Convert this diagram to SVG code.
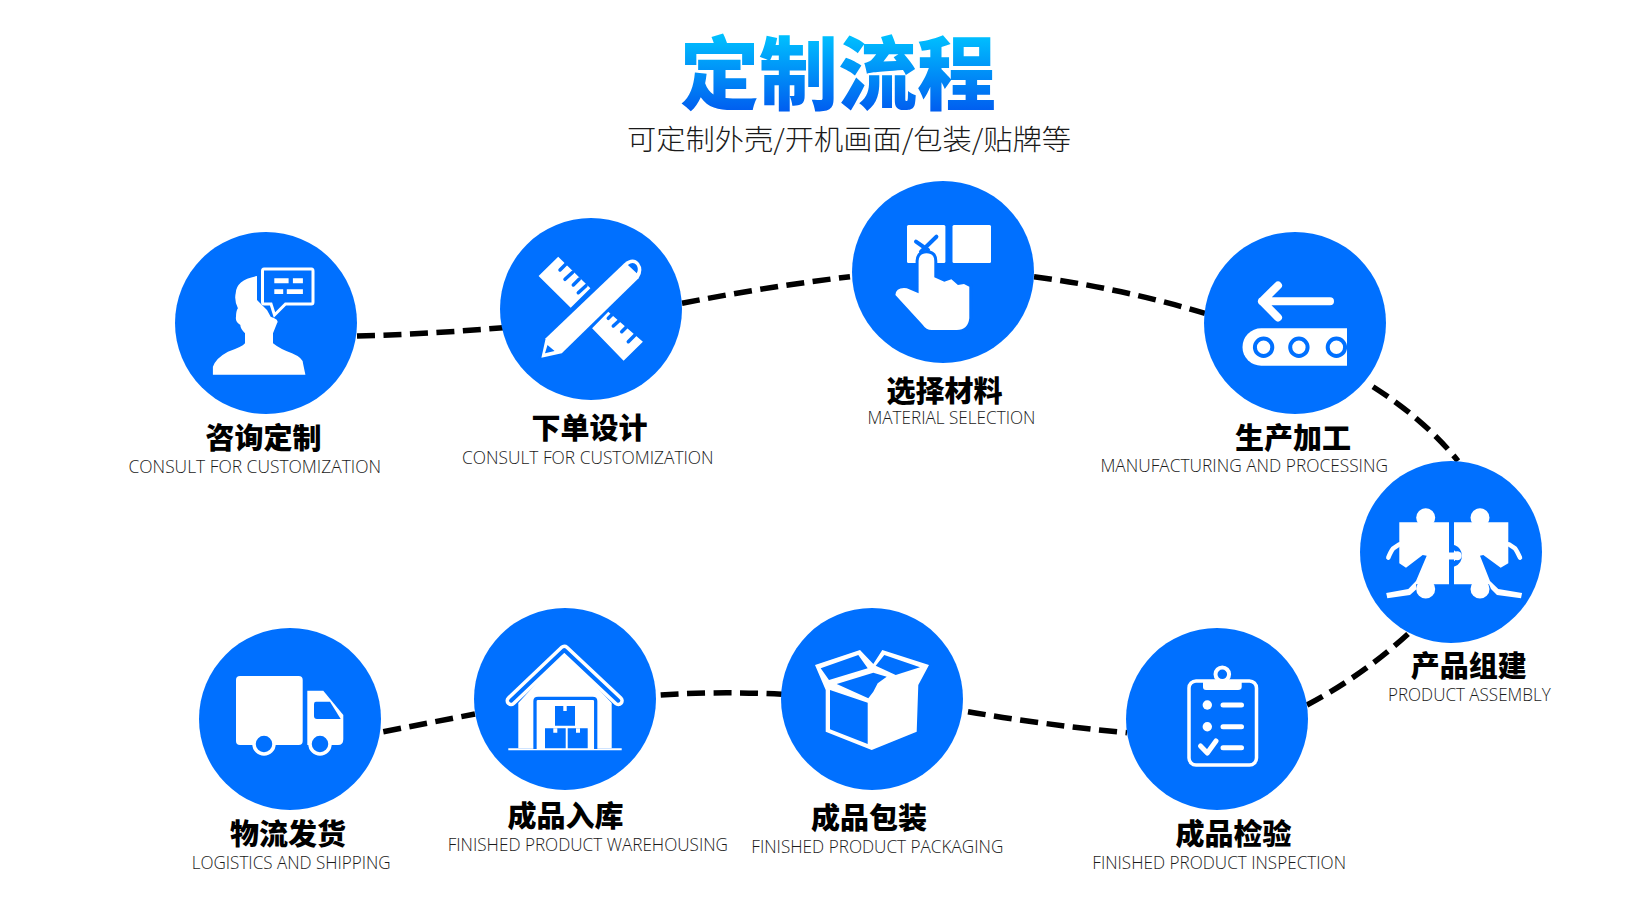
<svg xmlns="http://www.w3.org/2000/svg" width="1650" height="900" viewBox="0 0 1650 900">
<style>
.c{fill:#0070ff}
.w{fill:#fff}
.b{fill:#0070ff}
.ws{fill:none;stroke:#fff;stroke-linecap:round;stroke-linejoin:round}
.bs{fill:none;stroke:#0070ff;stroke-linecap:round;stroke-linejoin:round}
.cn{fill:none;stroke:#000;stroke-width:5.5;stroke-dasharray:18 8.5}
.zh{font-family:"Noto Sans CJK SC","Noto Sans",sans-serif;font-weight:900;font-size:29px;fill:#000;text-anchor:middle}
.en{font-family:"Open Sans","Noto Sans",sans-serif;font-weight:300;font-size:18.5px;fill:#1a1a1a}
</style>
<defs>
<linearGradient id="tg" gradientUnits="userSpaceOnUse" x1="0" y1="33" x2="0" y2="110">
<stop offset="0" stop-color="#00c3ff"/><stop offset="1" stop-color="#005ff0"/>
</linearGradient>
</defs>
<rect width="1650" height="900" fill="#fff"/>
<g id="header">
<text x="838" y="103" text-anchor="middle" textLength="316" lengthAdjust="spacingAndGlyphs" style="font-family:'Noto Sans CJK SC',sans-serif;font-weight:900;font-size:80px" fill="url(#tg)">定制流程</text>
<text x="627" y="150" textLength="444" lengthAdjust="spacingAndGlyphs" style="font-family:'Noto Sans CJK SC',sans-serif;font-weight:300;font-size:28px" fill="#1a1a1a">可定制外壳/开机画面/包装/贴牌等</text>
</g>
<g id="connectors">
<path class="cn" d="M357 336Q430 334 503 327.7"/>
<path class="cn" d="M682 303.3Q765 287 850 276.7"/>
<path class="cn" d="M1034 276.7Q1120 288 1205 313.3"/>
<path class="cn" d="M1373 386.7Q1425 420 1458 461"/>
<path class="cn" d="M1408 634Q1362 676 1307 705"/>
<path class="cn" d="M968 711.7Q1045 725 1127 732.7"/>
<path class="cn" d="M660.7 695Q720 691 782 694.3"/>
<path class="cn" d="M383.3 731.7L475 714"/>
</g>
<g id="node-consult">
<circle class="c" cx="266" cy="323" r="91"/>
<path class="w" d="M212.9 374.7V366.7Q216 358 227.9 351.7Q242 347 245 343.3V333.3Q240 328 240.4 325Q235 322 236 316.7Q236 311 237.9 308.3Q234 300 235.7 293.3Q236 280 257 276V300L267 310L270.7 316.7L274.3 318.3Q279 320 277 323.3L273 333.3V343.3Q280 349 292 353.3Q303 358 303 363.3L305.4 374.7Z"/>
<path d="M264 269H311.5Q313 269 313 271V302Q313 304 311.5 304H285.5L274.5 315L271 304H264Q262.5 304 262.5 302V271Q262.5 269 264 269Z" fill="#0070ff" stroke="#fff" stroke-width="3"/>
<path class="w" d="M274.3 278.3H288.6V283.3H274.3ZM292.9 278.3H302.9V283.3H292.9ZM274.3 289.3H283.2V294H274.3ZM286.8 289.3H302.9V294H286.8Z"/>
<text class="zh" x="263.4" y="448.5">咨询定制</text>
<text class="en" x="128.5" y="473.3" textLength="252.5" lengthAdjust="spacingAndGlyphs">CONSULT FOR CUSTOMIZATION</text>
</g>
<g id="node-design">
<circle class="c" cx="591" cy="309" r="91"/>
<path class="w" d="M558.2 256.7L538.6 276L570.7 307.7L590.4 288.3ZM608.2 311.7L592.1 328.3L623.6 360.7L642.9 341.7Z"/>
<path class="bs" stroke-width="3.5" stroke-linecap="butt" d="M566 264L560 270M572.7 272.3L565 279.3M579.3 279L573.3 285M586 285.7L578.3 292.700M614.3 312.3L608.3 318.3M621 319L613.3 326M627.7 325.7L621.7 331.7M636 334L628.3 341.7"/>
<path d="M541.4 357.7L545.7 338.3L624.3 263.3Q633 256 639 263Q644 270 638.6 278.3L561.8 353.3Z" fill="#fff" stroke="#0070ff" stroke-width="5" paint-order="stroke"/>
<path class="b" d="M547.5 345L545 353.3L554.6 351ZM627.9 265Q633 261 636.5 265Q639 269 636.8 273.3Z"/>
<text class="zh" x="589.5" y="439">下单设计</text>
<text class="en" x="462" y="463.6" textLength="251.6" lengthAdjust="spacingAndGlyphs">CONSULT FOR CUSTOMIZATION</text>
</g>
<g id="node-material">
<circle class="c" cx="943" cy="272" r="91"/>
<rect class="w" x="907" y="225" width="38.4" height="38" rx="1.5"/>
<rect class="w" x="952.5" y="225" width="38.5" height="38" rx="1.5"/>
<path class="bs" stroke-width="4" stroke-linecap="butt" d="M916 241.7L928 250M936.4 236.7L921 251.7"/>
<path d="M918.6 261Q919 253.3 926.5 253.3Q934.3 253.3 934.3 261V277.3L944.3 281.7L951.4 279.3L957.9 285L964 284L969.3 286.7V318.3Q968 330 956.8 330H931.8Q926 330 922.9 325L895.4 295Q896 287 906.8 288.3L918.6 293.3Z" fill="#fff" stroke="#0070ff" stroke-width="6" paint-order="stroke"/>
<text class="zh" x="944.5" y="402.3">选择材料</text>
<text class="en" x="867.5" y="424.4" textLength="167.9" lengthAdjust="spacingAndGlyphs">MATERIAL SELECTION</text>
</g>
<g id="node-manufacture">
<circle class="c" cx="1295" cy="323" r="91"/>
<path class="ws" stroke-width="8" d="M1330 301.3H1262M1278 285.5L1262 301.3L1278 317.5"/>
<path class="w" d="M1347 328.3V365.7H1261.2A18.7 18.7 0 0 1 1261.2 328.3Z"/>
<g fill="#fff" stroke="#0070ff" stroke-width="4"><circle cx="1263.6" cy="347.3" r="8.7"/><circle cx="1298.9" cy="347.3" r="8.7"/><circle cx="1336.4" cy="347.3" r="8.7"/></g>
<text class="zh" x="1293" y="448.5">生产加工</text>
<text class="en" x="1100.4" y="471.8" textLength="287.6" lengthAdjust="spacingAndGlyphs">MANUFACTURING AND PROCESSING</text>
</g>
<g id="node-assembly">
<circle class="c" cx="1451" cy="552" r="91"/>
<path class="w" d="M1399.3 522.3H1449V584.3H1416L1416.7 589L1410 595L1387.3 598.3L1386.2 593L1408.3 589L1416 581L1426.7 555.7L1422.7 555L1406 567.7L1399.3 563.3Z"/>
<path class="w" d="M1454 522.3H1508.3V563.3L1500.7 567.7L1483.3 555L1480 555.7L1490 581L1498.3 589L1522.1 593L1521 598.3L1497 595L1491 589L1489 584.3H1454Z"/>
<circle class="w" cx="1425.7" cy="517.7" r="9.5"/><circle class="w" cx="1480" cy="517.7" r="9.5"/><circle class="w" cx="1425.7" cy="589" r="9.5"/><circle class="w" cx="1480" cy="589" r="9.5"/>
<path class="bs" stroke-width="5" stroke-linecap="butt" d="M1454 547.5A9 9 0 0 1 1454 564"/>
<path class="w" d="M1448 552.5H1457V559.5H1448Z"/><circle class="w" cx="1457.3" cy="555.7" r="4.5"/>
<path class="ws" stroke-width="4.5" d="M1388.3 557.7Q1391 551 1393.3 548.3L1399.3 544.3M1520 557.7Q1517 551 1515 548.3L1509 544.3"/>
<text class="zh" x="1468.7" y="676.5">产品组建</text>
<text class="en" x="1388" y="700.5" textLength="162.7" lengthAdjust="spacingAndGlyphs">PRODUCT ASSEMBLY</text>
</g>
<g id="node-inspection">
<circle class="c" cx="1217" cy="719" r="91"/>
<rect x="1189" y="681" width="67.5" height="84" rx="7" fill="none" stroke="#fff" stroke-width="3.5"/>
<path class="w" d="M1203 680H1241.7V687Q1241.7 690 1238 690H1206Q1203 690 1203 687Z"/>
<circle cx="1222.3" cy="674.3" r="6.8" fill="#0070ff" stroke="#fff" stroke-width="4"/>
<circle class="w" cx="1207.3" cy="705" r="4.7"/><circle class="w" cx="1207.3" cy="726.7" r="4.7"/>
<path class="ws" stroke-width="5" d="M1223 705H1241.5M1223 726.7H1241.5M1223 747.7H1241.5M1200.5 746L1207.3 753L1216 741"/>
<text class="zh" x="1233.5" y="844.5">成品检验</text>
<text class="en" x="1092.3" y="869.3" textLength="253.7" lengthAdjust="spacingAndGlyphs">FINISHED PRODUCT INSPECTION</text>
</g>
<g id="node-packaging">
<circle class="c" cx="872" cy="699" r="91"/>
<path class="w" d="M815 665L860 650L873.3 664L882.3 650L929 665L918.3 685L916.7 731.7L871.7 750L825.7 731.7V690Z"/>
<path class="b" d="M820.7 668.3L858.3 655L867.7 668.3L829 680ZM884.3 655L920 667.3L895.7 675L875.7 665.7ZM836.7 684L873.3 672.7L886.7 676.7L877.7 683.3L873.3 691.7L868.3 698.3ZM830 690L867.7 702.7V744L830 729.3Z"/>
<text class="zh" x="869" y="828.5">成品包装</text>
<text class="en" x="751.3" y="853.3" textLength="252" lengthAdjust="spacingAndGlyphs">FINISHED PRODUCT PACKAGING</text>
</g>
<g id="node-warehouse">
<circle class="c" cx="565" cy="699" r="91"/>
<path class="w" d="M518.3 748.3V703L564.3 653L611.7 703V748.3Z"/>
<path class="ws" stroke-width="11" d="M511 700.7L564.3 650L618.3 700.7"/>
<path class="bs" stroke-width="4" d="M511 700.7L564.3 650L618.3 700.7"/>
<path class="w" d="M508.3 748.3H621.7V750.3H508.3Z"/>
<path d="M535 749V701Q535 698.3 538 698.3H592.7Q595.7 698.3 595.7 701V749" fill="#fff" stroke="#0070ff" stroke-width="3.3"/>
<path class="b" d="M555 706H575V725.7H555ZM545 728.3H565.7V748.3H545ZM567.7 728.3H587.7V748.3H567.7Z"/>
<path class="w" d="M563.3 706H566.7V711H563.3ZM553.3 728.3H557.3V732.7H553.3ZM576 728.3H580V732.7H576Z"/>
<text class="zh" x="565.4" y="826.5">成品入库</text>
<text class="en" x="447.7" y="851" textLength="280.3" lengthAdjust="spacingAndGlyphs">FINISHED PRODUCT WAREHOUSING</text>
</g>
<g id="node-shipping">
<circle class="c" cx="290" cy="719" r="91"/>
<rect class="w" x="236" y="676" width="66.7" height="69" rx="4"/>
<path class="w" d="M307.3 690.7H323.3L343.3 715V739Q343.3 745 338 745H307.3Z"/>
<path class="b" d="M314 704Q314 701.7 316 701.7H330L340.7 719H317Q314 719 314 716Z"/>
<circle cx="264" cy="744" r="10" fill="#0070ff" stroke="#fff" stroke-width="3.5"/>
<circle cx="320" cy="744" r="10" fill="#0070ff" stroke="#fff" stroke-width="3.5"/>
<text class="zh" x="288" y="844.5">物流发货</text>
<text class="en" x="191.7" y="868.5" textLength="199" lengthAdjust="spacingAndGlyphs">LOGISTICS AND SHIPPING</text>
</g>
</svg>
